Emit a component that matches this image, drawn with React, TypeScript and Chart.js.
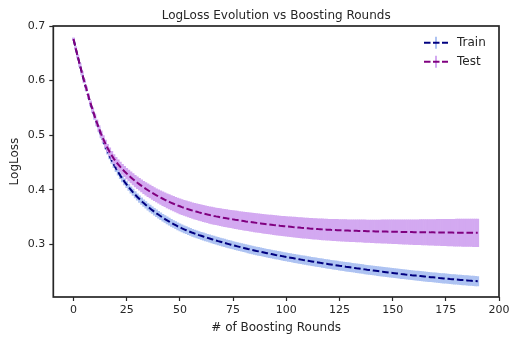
import React, { useEffect, useRef } from "react";
import { Chart, registerables } from "chart.js";

Chart.register(...registerables);

// ---------------- data ----------------
const ROUNDS: number[] = Array.from({ length: 191 }, (_, i) => i);

const TRAIN_MEAN: number[] = [
  0.6760, 0.6597, 0.6438, 0.6283, 0.6132, 0.5985, 0.5843, 0.5706, 0.5574, 0.5448,
  0.5328, 0.5212, 0.5101, 0.4995, 0.4893, 0.4795, 0.4703, 0.4616, 0.4534, 0.4458,
  0.4388, 0.4322, 0.4259, 0.4200, 0.4145, 0.4093, 0.4044, 0.3997, 0.3952, 0.3909,
  0.3868, 0.3829, 0.3791, 0.3755, 0.3721, 0.3688, 0.3657, 0.3626, 0.3597, 0.3568,
  0.3541, 0.3514, 0.3488, 0.3463, 0.3439, 0.3416, 0.3393, 0.3372, 0.3351, 0.3330,
  0.3311, 0.3292, 0.3275, 0.3258, 0.3241, 0.3226, 0.3211, 0.3197, 0.3183, 0.3169,
  0.3156, 0.3143, 0.3130, 0.3118, 0.3106, 0.3094, 0.3082, 0.3070, 0.3058, 0.3047,
  0.3036, 0.3025, 0.3014, 0.3004, 0.2993, 0.2983, 0.2973, 0.2963, 0.2953, 0.2943,
  0.2934, 0.2925, 0.2915, 0.2906, 0.2897, 0.2888, 0.2879, 0.2871, 0.2862, 0.2854,
  0.2846, 0.2838, 0.2830, 0.2822, 0.2814, 0.2806, 0.2799, 0.2791, 0.2784, 0.2776,
  0.2769, 0.2762, 0.2755, 0.2748, 0.2741, 0.2734, 0.2727, 0.2720, 0.2713, 0.2707,
  0.2700, 0.2693, 0.2687, 0.2680, 0.2674, 0.2668, 0.2661, 0.2655, 0.2649, 0.2643,
  0.2637, 0.2631, 0.2625, 0.2619, 0.2613, 0.2607, 0.2602, 0.2596, 0.2590, 0.2585,
  0.2579, 0.2573, 0.2568, 0.2562, 0.2557, 0.2551, 0.2546, 0.2541, 0.2535, 0.2530,
  0.2525, 0.2520, 0.2515, 0.2510, 0.2505, 0.2500, 0.2495, 0.2490, 0.2485, 0.2480,
  0.2476, 0.2471, 0.2466, 0.2462, 0.2457, 0.2453, 0.2448, 0.2444, 0.2440, 0.2435,
  0.2431, 0.2427, 0.2423, 0.2419, 0.2415, 0.2411, 0.2407, 0.2403, 0.2399, 0.2395,
  0.2391, 0.2387, 0.2383, 0.2380, 0.2376, 0.2373, 0.2369, 0.2365, 0.2362, 0.2358,
  0.2355, 0.2352, 0.2348, 0.2345, 0.2342, 0.2339, 0.2335, 0.2332, 0.2329, 0.2326,
  0.2323,
];

const TRAIN_STD: number[] = [
  0.0020, 0.0022, 0.0024, 0.0026, 0.0028, 0.0030, 0.0032, 0.0034, 0.0036, 0.0038,
  0.0040, 0.0042, 0.0043, 0.0045, 0.0046, 0.0048, 0.0049, 0.0050, 0.0052, 0.0053,
  0.0055, 0.0055, 0.0056, 0.0056, 0.0057, 0.0057, 0.0057, 0.0058, 0.0058, 0.0058,
  0.0059, 0.0059, 0.0059, 0.0060, 0.0060, 0.0060, 0.0061, 0.0061, 0.0061, 0.0062,
  0.0062, 0.0062, 0.0062, 0.0063, 0.0063, 0.0063, 0.0063, 0.0064, 0.0064, 0.0064,
  0.0064, 0.0064, 0.0065, 0.0065, 0.0065, 0.0065, 0.0066, 0.0066, 0.0066, 0.0066,
  0.0066, 0.0067, 0.0067, 0.0067, 0.0067, 0.0068, 0.0068, 0.0068, 0.0068, 0.0068,
  0.0069, 0.0069, 0.0069, 0.0069, 0.0069, 0.0069, 0.0070, 0.0070, 0.0070, 0.0070,
  0.0070, 0.0070, 0.0071, 0.0071, 0.0071, 0.0071, 0.0071, 0.0072, 0.0072, 0.0072,
  0.0072, 0.0072, 0.0073, 0.0073, 0.0073, 0.0073, 0.0073, 0.0074, 0.0074, 0.0074,
  0.0074, 0.0074, 0.0075, 0.0075, 0.0075, 0.0075, 0.0075, 0.0076, 0.0076, 0.0076,
  0.0076, 0.0076, 0.0077, 0.0077, 0.0077, 0.0077, 0.0077, 0.0078, 0.0078, 0.0078,
  0.0078, 0.0078, 0.0079, 0.0079, 0.0079, 0.0079, 0.0079, 0.0080, 0.0080, 0.0080,
  0.0080, 0.0080, 0.0080, 0.0081, 0.0081, 0.0081, 0.0081, 0.0081, 0.0081, 0.0082,
  0.0082, 0.0082, 0.0082, 0.0082, 0.0082, 0.0082, 0.0083, 0.0083, 0.0083, 0.0083,
  0.0083, 0.0083, 0.0083, 0.0084, 0.0084, 0.0084, 0.0084, 0.0084, 0.0084, 0.0084,
  0.0085, 0.0085, 0.0085, 0.0085, 0.0085, 0.0085, 0.0085, 0.0085, 0.0085, 0.0085,
  0.0085, 0.0085, 0.0085, 0.0086, 0.0086, 0.0086, 0.0086, 0.0086, 0.0086, 0.0086,
  0.0086, 0.0086, 0.0087, 0.0087, 0.0087, 0.0087, 0.0087, 0.0087, 0.0087, 0.0087,
  0.0087,
];

const TEST_MEAN: number[] = [
  0.6760, 0.6597, 0.6440, 0.6287, 0.6138, 0.5993, 0.5853, 0.5718, 0.5588, 0.5463,
  0.5343, 0.5229, 0.5121, 0.5021, 0.4929, 0.4843, 0.4764, 0.4692, 0.4626, 0.4566,
  0.4513, 0.4464, 0.4418, 0.4375, 0.4334, 0.4296, 0.4260, 0.4225, 0.4191, 0.4159,
  0.4128, 0.4099, 0.4070, 0.4043, 0.4016, 0.3991, 0.3966, 0.3943, 0.3920, 0.3897,
  0.3876, 0.3855, 0.3835, 0.3816, 0.3797, 0.3779, 0.3761, 0.3744, 0.3728, 0.3712,
  0.3697, 0.3682, 0.3668, 0.3655, 0.3642, 0.3630, 0.3618, 0.3607, 0.3596, 0.3585,
  0.3575, 0.3565, 0.3556, 0.3546, 0.3537, 0.3529, 0.3520, 0.3512, 0.3505, 0.3497,
  0.3490, 0.3483, 0.3476, 0.3470, 0.3463, 0.3457, 0.3450, 0.3444, 0.3438, 0.3432,
  0.3426, 0.3420, 0.3415, 0.3409, 0.3404, 0.3398, 0.3393, 0.3388, 0.3383, 0.3378,
  0.3373, 0.3368, 0.3364, 0.3359, 0.3354, 0.3350, 0.3346, 0.3341, 0.3337, 0.3333,
  0.3329, 0.3325, 0.3321, 0.3317, 0.3314, 0.3310, 0.3307, 0.3303, 0.3300, 0.3297,
  0.3294, 0.3290, 0.3287, 0.3285, 0.3282, 0.3279, 0.3277, 0.3274, 0.3272, 0.3269,
  0.3267, 0.3265, 0.3264, 0.3262, 0.3260, 0.3258, 0.3257, 0.3255, 0.3253, 0.3252,
  0.3250, 0.3249, 0.3248, 0.3247, 0.3246, 0.3245, 0.3243, 0.3242, 0.3241, 0.3240,
  0.3239, 0.3238, 0.3237, 0.3236, 0.3235, 0.3235, 0.3234, 0.3233, 0.3232, 0.3231,
  0.3230, 0.3229, 0.3229, 0.3228, 0.3227, 0.3227, 0.3226, 0.3225, 0.3224, 0.3224,
  0.3223, 0.3223, 0.3222, 0.3222, 0.3221, 0.3221, 0.3220, 0.3220, 0.3219, 0.3219,
  0.3218, 0.3218, 0.3217, 0.3217, 0.3216, 0.3216, 0.3216, 0.3215, 0.3215, 0.3214,
  0.3214, 0.3214, 0.3213, 0.3213, 0.3213, 0.3212, 0.3212, 0.3212, 0.3211, 0.3211,
  0.3211,
];

const TEST_STD: number[] = [
  0.0020, 0.0022, 0.0025, 0.0027, 0.0030, 0.0032, 0.0035, 0.0037, 0.0040, 0.0043,
  0.0046, 0.0050, 0.0054, 0.0058, 0.0062, 0.0066, 0.0070, 0.0074, 0.0077, 0.0080,
  0.0083, 0.0086, 0.0089, 0.0092, 0.0094, 0.0097, 0.0099, 0.0101, 0.0103, 0.0105,
  0.0107, 0.0109, 0.0111, 0.0113, 0.0114, 0.0116, 0.0118, 0.0119, 0.0121, 0.0122,
  0.0124, 0.0125, 0.0127, 0.0128, 0.0130, 0.0131, 0.0132, 0.0134, 0.0135, 0.0136,
  0.0138, 0.0139, 0.0140, 0.0141, 0.0142, 0.0143, 0.0144, 0.0145, 0.0146, 0.0147,
  0.0148, 0.0149, 0.0150, 0.0151, 0.0152, 0.0153, 0.0153, 0.0154, 0.0155, 0.0156,
  0.0157, 0.0158, 0.0159, 0.0159, 0.0160, 0.0161, 0.0162, 0.0163, 0.0163, 0.0164,
  0.0165, 0.0166, 0.0167, 0.0167, 0.0168, 0.0169, 0.0170, 0.0170, 0.0171, 0.0172,
  0.0173, 0.0173, 0.0174, 0.0175, 0.0176, 0.0176, 0.0177, 0.0178, 0.0178, 0.0179,
  0.0180, 0.0181, 0.0181, 0.0182, 0.0183, 0.0183, 0.0184, 0.0185, 0.0185, 0.0186,
  0.0187, 0.0187, 0.0188, 0.0189, 0.0189, 0.0190, 0.0191, 0.0191, 0.0192, 0.0193,
  0.0193, 0.0194, 0.0195, 0.0195, 0.0196, 0.0197, 0.0197, 0.0198, 0.0199, 0.0199,
  0.0200, 0.0201, 0.0201, 0.0202, 0.0203, 0.0203, 0.0204, 0.0205, 0.0205, 0.0206,
  0.0207, 0.0208, 0.0209, 0.0210, 0.0211, 0.0212, 0.0213, 0.0214, 0.0215, 0.0216,
  0.0217, 0.0218, 0.0219, 0.0220, 0.0221, 0.0222, 0.0223, 0.0224, 0.0225, 0.0226,
  0.0227, 0.0228, 0.0229, 0.0230, 0.0231, 0.0232, 0.0233, 0.0234, 0.0235, 0.0236,
  0.0237, 0.0238, 0.0239, 0.0240, 0.0241, 0.0242, 0.0243, 0.0244, 0.0245, 0.0246,
  0.0247, 0.0248, 0.0249, 0.0250, 0.0250, 0.0251, 0.0251, 0.0252, 0.0252, 0.0253,
  0.0253,
];

const X_TICKS: number[] = [0, 25, 50, 75, 100, 125, 150, 175, 200];
const Y_TICKS: number[] = [0.3, 0.4, 0.5, 0.6, 0.7];
const SERIES_NAMES: string[] = ["Train", "Test"];
const TITLE = "LogLoss Evolution vs Boosting Rounds";
const X_LABEL = "# of Boosting Rounds";
const Y_LABEL = "LogLoss";

// ---------------- styles ----------------
const FONT = "'DejaVu Sans', 'Liberation Sans', sans-serif";
const INK = "#262626";
const TRAIN_LINE = "#000080";
const TRAIN_BAND = "#aec3f2";
const TEST_LINE = "#800080";
const TEST_BAND = "#d3a9f1";
const DASH = [6.6, 2.8];

function makeIcon(line: string, band: string): HTMLCanvasElement {
  const c = document.createElement("canvas");
  c.width = 24;
  c.height = 14;
  const g = c.getContext("2d")!;
  g.fillStyle = band;
  g.fillRect(11, 1, 2, 12);
  g.strokeStyle = line;
  g.lineWidth = 2;
  g.setLineDash([6.5, 2.5]);
  g.beginPath();
  g.moveTo(0, 7);
  g.lineTo(24, 7);
  g.stroke();
  return c;
}

const framePlugin = {
  id: "frame",
  afterDatasetsDraw(chart: any) {
    const { ctx, chartArea: a } = chart;
    ctx.save();
    ctx.strokeStyle = INK;
    ctx.lineWidth = 1.7;
    ctx.strokeRect(a.left, a.top, a.right - a.left, a.bottom - a.top);
    ctx.restore();
  },
};

const legendPlacePlugin = {
  id: "legendPlace",
  afterLayout(chart: any) {
    const lg = chart.legend;
    if (!lg) return;
    const a = chart.chartArea;
    lg.left = a.right - 85;
    lg.right = a.right;
    lg.top = a.top + 3.7;
    lg.bottom = a.bottom;
  },
};

export default function App() {
  const ref = useRef<HTMLCanvasElement>(null);

  useEffect(() => {
    const canvas = ref.current;
    if (!canvas) return;

    const band = (mean: number[], std: number[]) =>
      ROUNDS.map((r, i) => ({ x: r, y: [mean[i] - std[i], mean[i] + std[i]] }));
    const line = (mean: number[]) => ROUNDS.map((r, i) => ({ x: r, y: mean[i] }));

    const axisGrid = {
      display: true,
      offset: false,
      drawOnChartArea: false,
      drawTicks: true,
      tickLength: 4,
      tickWidth: 1.2,
      tickColor: INK,
      color: INK,
    };

    const bandStyle = {
      type: "bar",
      borderWidth: 0,
      grouped: false,
      categoryPercentage: 1,
      barPercentage: 1,
    };

    const chart = new Chart(canvas, {
      type: "line",
      data: {
        datasets: [
          {
            ...bandStyle,
            label: SERIES_NAMES[0] + " band",
            data: band(TRAIN_MEAN, TRAIN_STD),
            backgroundColor: TRAIN_BAND,
            order: 4,
          },
          {
            type: "line",
            label: SERIES_NAMES[0],
            data: line(TRAIN_MEAN),
            borderColor: TRAIN_LINE,
            backgroundColor: TRAIN_LINE,
            borderWidth: 2,
            borderDash: DASH,
            pointRadius: 0,
            pointHoverRadius: 0,
            pointStyle: makeIcon(TRAIN_LINE, TRAIN_BAND),
            tension: 0,
            fill: false,
            order: 3,
          },
          {
            ...bandStyle,
            label: SERIES_NAMES[1] + " band",
            data: band(TEST_MEAN, TEST_STD),
            backgroundColor: TEST_BAND,
            order: 2,
          },
          {
            type: "line",
            label: SERIES_NAMES[1],
            data: line(TEST_MEAN),
            borderColor: TEST_LINE,
            backgroundColor: TEST_LINE,
            borderWidth: 2,
            borderDash: DASH,
            pointRadius: 0,
            pointHoverRadius: 0,
            pointStyle: makeIcon(TEST_LINE, TEST_BAND),
            tension: 0,
            fill: false,
            order: 1,
          },
        ] as any,
      },
      options: {
        responsive: false,
        animation: false,
        events: [],
        layout: { padding: { left: 0, right: 20, top: 0, bottom: 0 } },
        plugins: {
          title: {
            display: true,
            text: TITLE,
            fullSize: false,
            color: INK,
            font: { family: FONT, size: 12, weight: "normal" },
            padding: { top: 9, bottom: 2.6 },
          },
          legend: {
            position: "chartArea",
            align: "start",
            labels: {
              usePointStyle: true,
              pointStyleWidth: 30,
              padding: 7,
              color: INK,
              font: { family: FONT, size: 12 },
              filter: (item: any, data: any) => data.datasets[item.datasetIndex].type === "line",
              sort: (a: any, b: any) => a.datasetIndex - b.datasetIndex,
            },
          },
          tooltip: { enabled: false },
        },
        scales: {
          x: {
            type: "linear",
            min: -9.5,
            max: 200,
            offset: false,
            afterBuildTicks: (s: any) => {
              s.ticks = X_TICKS.map((v) => ({ value: v }));
            },
            afterFit: (s: any) => {
              s.height = 52;
            },
            grid: axisGrid,
            border: { display: false },
            ticks: {
              color: INK,
              font: { family: FONT, size: 11 },
              padding: 3,
              maxRotation: 0,
              autoSkip: false,
              callback: (v: any) => String(v),
            },
            title: {
              display: true,
              text: X_LABEL,
              color: INK,
              font: { family: FONT, size: 12 },
              padding: { top: 0, bottom: 14 },
            },
          },
          y: {
            type: "linear",
            min: 0.2035,
            max: 0.7,
            stacked: false,
            beginAtZero: false,
            afterBuildTicks: (s: any) => {
              s.ticks = Y_TICKS.map((v) => ({ value: v }));
            },
            afterFit: (s: any) => {
              s.width = 53.3;
            },
            grid: axisGrid,
            border: { display: false },
            ticks: {
              color: INK,
              font: { family: FONT, size: 11 },
              padding: 4,
              callback: (v: any) => Number(v).toFixed(1),
            },
            title: {
              display: true,
              text: Y_LABEL,
              color: INK,
              font: { family: FONT, size: 12 },
              padding: { top: 8, bottom: 0 },
            },
          },
        },
      } as any,
      plugins: [framePlugin, legendPlacePlugin],
    });

    return () => chart.destroy();
  }, []);

  return (
    <div style={{ position: "fixed", left: 0, top: 0, width: 519, height: 349, background: "#ffffff" }}>
      <canvas ref={ref} width={519} height={349} style={{ display: "block" }} />
    </div>
  );
}
